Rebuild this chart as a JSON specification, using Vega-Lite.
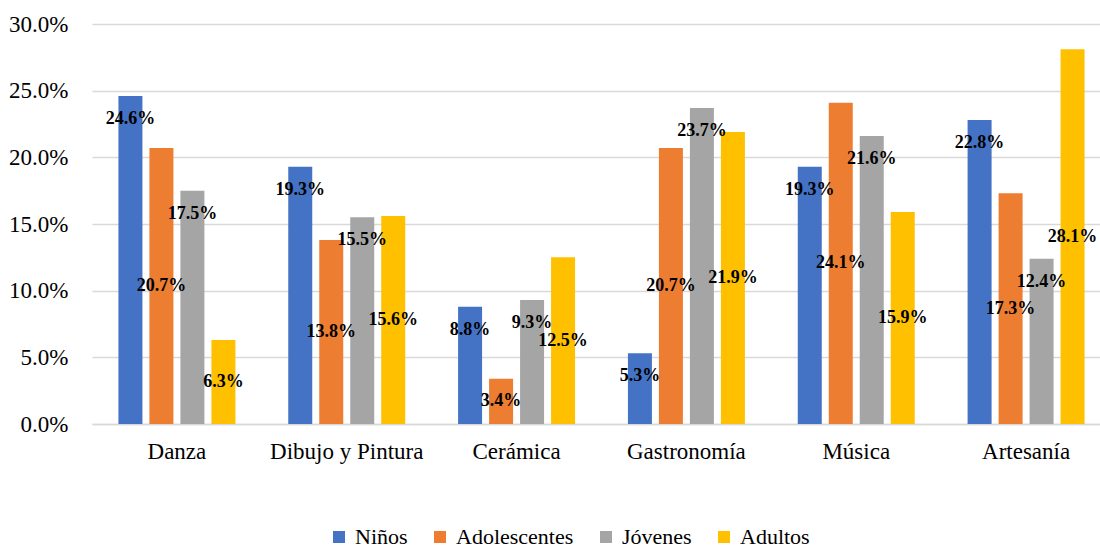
{
  "$schema": "https://vega.github.io/schema/vega-lite/v6.json",
  "width": 1019,
  "height": 400,
  "autosize": {"type": "none"},
  "padding": {"left": 92, "top": 24, "right": 0, "bottom": 125},
  "background": "white",
  "config": {
    "view": {"stroke": null},
    "font": "Liberation Serif"
  },
  "data": {
    "values": [
      {"actividad": "Danza", "grupo": "Niños", "valor": 0.246},
      {"actividad": "Danza", "grupo": "Adolescentes", "valor": 0.207},
      {"actividad": "Danza", "grupo": "Jóvenes", "valor": 0.175},
      {"actividad": "Danza", "grupo": "Adultos", "valor": 0.063},
      {"actividad": "Dibujo y Pintura", "grupo": "Niños", "valor": 0.193},
      {"actividad": "Dibujo y Pintura", "grupo": "Adolescentes", "valor": 0.138},
      {"actividad": "Dibujo y Pintura", "grupo": "Jóvenes", "valor": 0.155},
      {"actividad": "Dibujo y Pintura", "grupo": "Adultos", "valor": 0.156},
      {"actividad": "Cerámica", "grupo": "Niños", "valor": 0.088},
      {"actividad": "Cerámica", "grupo": "Adolescentes", "valor": 0.034},
      {"actividad": "Cerámica", "grupo": "Jóvenes", "valor": 0.093},
      {"actividad": "Cerámica", "grupo": "Adultos", "valor": 0.125},
      {"actividad": "Gastronomía", "grupo": "Niños", "valor": 0.053},
      {"actividad": "Gastronomía", "grupo": "Adolescentes", "valor": 0.207},
      {"actividad": "Gastronomía", "grupo": "Jóvenes", "valor": 0.237},
      {"actividad": "Gastronomía", "grupo": "Adultos", "valor": 0.219},
      {"actividad": "Música", "grupo": "Niños", "valor": 0.193},
      {"actividad": "Música", "grupo": "Adolescentes", "valor": 0.241},
      {"actividad": "Música", "grupo": "Jóvenes", "valor": 0.216},
      {"actividad": "Música", "grupo": "Adultos", "valor": 0.159},
      {"actividad": "Artesanía", "grupo": "Niños", "valor": 0.228},
      {"actividad": "Artesanía", "grupo": "Adolescentes", "valor": 0.173},
      {"actividad": "Artesanía", "grupo": "Jóvenes", "valor": 0.124},
      {"actividad": "Artesanía", "grupo": "Adultos", "valor": 0.281}
    ]
  },
  "encoding": {
    "x": {
      "field": "actividad",
      "type": "nominal",
      "sort": ["Danza", "Dibujo y Pintura", "Cerámica", "Gastronomía", "Música", "Artesanía"],
      "scale": {"paddingInner": 0.27, "paddingOuter": 0.135},
      "axis": {
        "title": null,
        "labelAngle": 0,
        "labelFont": "Liberation Serif",
        "labelFontSize": 23,
        "labelColor": "#000000",
        "labelPadding": 16,
        "ticks": false,
        "domainColor": "#d9d9d9",
        "domainWidth": 1.5,
        "grid": false
      }
    },
    "xOffset": {
      "field": "grupo",
      "type": "nominal",
      "sort": ["Niños", "Adolescentes", "Jóvenes", "Adultos"],
      "scale": {"paddingInner": 0.2258, "paddingOuter": 0.1129}
    }
  },
  "layer": [
    {
      "mark": {"type": "bar"},
      "encoding": {
        "y": {
          "field": "valor",
          "type": "quantitative",
          "scale": {"domain": [0, 0.3], "nice": false},
          "axis": {
            "title": null,
            "format": ".1%",
            "values": [0, 0.05, 0.1, 0.15, 0.2, 0.25, 0.3],
            "labelFont": "Liberation Serif",
            "labelFontSize": 23,
            "labelColor": "#000000",
            "labelPadding": 24,
            "ticks": false,
            "domain": false,
            "grid": true,
            "gridColor": "#d9d9d9",
            "gridWidth": 1.5
          }
        },
        "color": {
          "field": "grupo",
          "type": "nominal",
          "scale": {
            "domain": ["Niños", "Adolescentes", "Jóvenes", "Adultos"],
            "range": ["#4472C4", "#ED7D31", "#A5A5A5", "#FFC000"]
          },
          "legend": {
            "title": null,
            "orient": "none",
            "direction": "horizontal",
            "legendX": 236,
            "legendY": 502,
            "symbolType": "square",
            "symbolSize": 144,
            "symbolStrokeWidth": 0,
            "labelFont": "Liberation Serif",
            "labelFontSize": 22,
            "labelColor": "#000000",
            "labelOffset": 5,
            "columnPadding": 21,
            "labelLimit": 300
          }
        }
      }
    },
    {
      "transform": [{"filter": {"field": "grupo", "oneOf": ["Niños", "Jóvenes"]}}],
      "mark": {
        "type": "text",
        "font": "Liberation Serif",
        "fontSize": 18,
        "fontWeight": "bold",
        "color": "#000000",
        "baseline": "middle",
        "align": "center",
        "dy": 23
      },
      "encoding": {
        "y": {"field": "valor", "type": "quantitative"},
        "text": {"field": "valor", "type": "quantitative", "format": ".1%"}
      }
    },
    {
      "transform": [
        {"filter": {"field": "grupo", "oneOf": ["Adolescentes", "Adultos"]}},
        {"calculate": "datum.valor / 2", "as": "mitad"}
      ],
      "mark": {
        "type": "text",
        "font": "Liberation Serif",
        "fontSize": 18,
        "fontWeight": "bold",
        "color": "#000000",
        "baseline": "middle",
        "align": "center"
      },
      "encoding": {
        "y": {"field": "mitad", "type": "quantitative"},
        "text": {"field": "valor", "type": "quantitative", "format": ".1%"}
      }
    }
  ]
}
